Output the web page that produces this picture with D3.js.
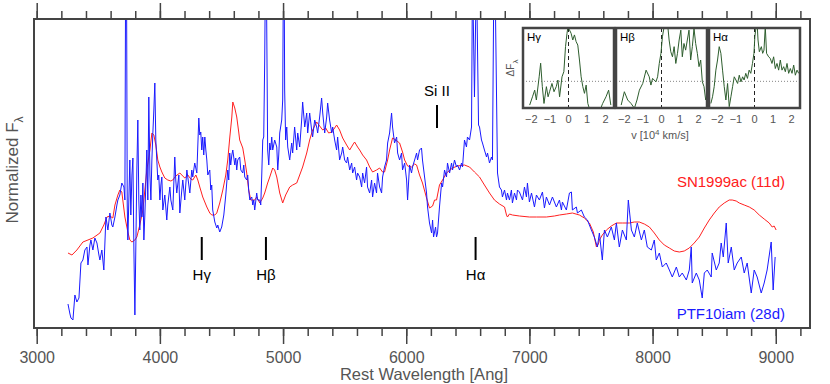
<!DOCTYPE html>
<html>
<head>
<meta charset="utf-8">
<script src="https://cdn.jsdelivr.net/npm/d3@7"></script>
<style>
body { margin: 0; background: #fff; }
text { font-family: "Liberation Sans", Arial, sans-serif; }
</style>
</head>
<body>
<script>
// PTF10iam (28d), [rest wavelength in Ang, normalized flux]
var ptfSpec = [
 [3254,0.24],[3270,0.14],[3278,0.10],[3294,0.08],[3310,0.33],[3326,0.26],[3343,0.30],[3359,0.65],[3375,0.68],[3391,0.78],
 [3408,0.81],[3416,0.63],[3432,0.83],[3440,0.88],[3456,0.78],[3472,0.90],[3489,0.85],[3505,0.73],[3513,0.68],[3529,0.78],
 [3545,0.58],[3562,1.11],[3578,0.98],[3594,1.15],[3610,1.03],[3618,1.01],[3635,1.11],[3651,1.23],[3659,1.28],[3675,1.33],
 [3691,1.45],[3708,1.41],[3716,1.28],[3722,3.6],[3729,3.6],[3735,1.23],[3740,0.88],[3756,1.68],[3764,1.13],[3773,1.53],
 [3781,1.70],[3789,0.78],[3797,0.13],[3805,0.83],[3813,1.58],[3821,2.08],[3829,1.28],[3837,0.98],[3846,1.33],[3854,1.11],
 [3862,1.45],[3870,0.88],[3878,1.13],[3886,1.43],[3894,1.78],[3902,1.28],[3910,2.31],[3919,1.53],[3927,1.28],[3935,1.68],
 [3943,1.95],[3951,2.18],[3959,2.45],[3967,1.88],[3975,1.68],[3983,1.48],[3991,1.53],[4000,1.28],[4008,1.43],[4016,1.51],
 [4024,1.18],[4040,1.33],[4056,1.08],[4064,1.23],[4081,1.41],[4089,1.28],[4105,1.18],[4121,1.71],[4129,1.48],[4137,1.35],
 [4154,1.53],[4162,1.15],[4178,1.38],[4186,1.48],[4202,1.28],[4210,1.43],[4219,1.58],[4235,1.43],[4243,1.35],[4259,1.58],
 [4267,1.51],[4283,1.65],[4300,1.55],[4316,2.10],[4324,1.93],[4332,1.96],[4340,1.78],[4348,1.91],[4356,1.73],[4365,1.91],
 [4373,1.78],[4381,1.68],[4389,1.53],[4405,1.58],[4413,1.38],[4421,1.43],[4429,1.18],[4446,1.06],[4462,1.00],[4470,1.03],
 [4486,0.96],[4502,1.01],[4519,1.13],[4535,1.33],[4551,1.58],[4559,1.48],[4567,1.75],[4575,1.63],[4584,1.73],[4592,1.78],
 [4608,1.63],[4616,1.70],[4624,1.58],[4632,1.68],[4648,1.71],[4657,1.58],[4673,1.55],[4681,1.63],[4689,1.51],[4705,1.48],
 [4713,1.53],[4721,1.38],[4730,1.28],[4746,1.31],[4754,1.23],[4762,1.28],[4770,1.18],[4786,1.35],[4794,1.28],[4811,1.28],
 [4819,1.23],[4827,1.53],[4835,1.88],[4843,1.91],[4851,2.68],[4857,3.6],[4864,3.6],[4875,1.78],[4884,1.63],[4892,1.85],
 [4900,1.78],[4908,1.91],[4916,1.78],[4932,1.88],[4949,1.81],[4957,1.58],[4965,1.73],[4973,1.95],[4989,2.08],[4997,2.28],
 [5003,3.6],[5009,3.6],[5013,2.38],[5021,1.88],[5030,2.01],[5038,1.81],[5054,1.68],[5070,1.85],[5078,1.75],[5094,2.01],
 [5111,1.78],[5119,1.95],[5135,1.81],[5151,2.08],[5159,2.26],[5176,2.01],[5192,2.15],[5200,1.95],[5216,2.15],[5232,1.98],
 [5240,1.91],[5257,2.08],[5273,2.01],[5281,1.95],[5297,2.11],[5313,2.30],[5322,2.15],[5338,1.95],[5354,2.11],[5362,2.25],
 [5378,2.08],[5395,1.95],[5403,2.01],[5419,1.88],[5435,1.78],[5443,1.91],[5459,1.68],[5476,1.75],[5484,1.81],[5500,1.68],
 [5516,1.65],[5524,1.71],[5541,1.58],[5557,1.65],[5565,1.55],[5581,1.61],[5597,1.48],[5605,1.55],[5622,1.51],[5638,1.41],
 [5646,1.55],[5662,1.45],[5678,1.61],[5686,1.41],[5703,1.35],[5719,1.48],[5727,1.31],[5743,1.45],[5759,1.35],[5767,1.55],
 [5784,1.41],[5800,1.35],[5808,1.51],[5824,1.61],[5840,1.68],[5849,1.85],[5865,1.95],[5881,2.15],[5889,2.01],[5905,1.85],
 [5922,1.91],[5930,1.75],[5946,1.68],[5962,1.75],[5970,1.58],[5987,1.65],[6003,1.48],[6011,1.28],[6027,1.63],[6043,1.55],
 [6051,1.61],[6068,1.68],[6084,1.75],[6092,1.68],[6108,1.78],[6124,1.80],[6132,1.68],[6149,1.51],[6165,1.35],[6173,1.21],
 [6189,1.05],[6206,0.95],[6214,1.08],[6222,0.91],[6238,1.01],[6246,0.91],[6254,0.95],[6270,1.21],[6287,1.45],[6295,1.41],
 [6311,1.58],[6327,1.51],[6335,1.65],[6352,1.55],[6368,1.65],[6376,1.58],[6392,1.68],[6408,1.61],[6416,1.63],[6433,1.58],
 [6449,1.65],[6457,1.61],[6473,1.88],[6489,1.81],[6497,1.91],[6514,1.88],[6530,2.01],[6538,3.6],[6554,2.31],[6570,3.6],
 [6587,2.03],[6595,2.01],[6611,1.88],[6619,1.85],[6635,1.78],[6652,1.71],[6660,1.75],[6676,1.65],[6692,1.71],[6700,1.68],
 [6712,3.6],[6720,3.6],[6741,1.55],[6757,1.41],[6773,1.38],[6781,1.31],[6798,1.38],[6814,1.28],[6822,1.35],[6838,1.28],
 [6854,1.38],[6862,1.25],[6879,1.35],[6895,1.28],[6903,1.38],[6919,1.36],[6944,1.28],[6960,1.41],[6976,1.31],[6984,1.45],
 [7000,1.26],[7017,1.35],[7041,1.21],[7057,1.33],[7081,1.28],[7106,1.36],[7122,1.20],[7138,1.31],[7163,1.23],[7187,1.31],
 [7219,1.21],[7244,1.28],[7260,1.18],[7268,1.26],[7300,1.18],[7325,1.35],[7341,1.36],[7349,1.18],[7381,1.21],[7390,1.15],
 [7422,1.18],[7446,1.11],[7471,1.08],[7503,0.98],[7527,0.91],[7552,0.81],[7568,0.95],[7592,0.68],[7609,0.98],[7633,0.91],
 [7665,1.01],[7690,0.88],[7706,1.05],[7730,0.81],[7755,0.98],[7787,0.88],[7803,1.28],[7828,0.98],[7852,0.91],[7876,1.05],
 [7909,0.88],[7933,0.98],[7957,0.81],[7990,0.78],[8014,0.88],[8030,0.68],[8055,0.75],[8079,0.61],[8111,0.65],[8136,0.58],
 [8160,0.51],[8193,0.61],[8217,0.51],[8241,0.55],[8274,0.48],[8298,0.58],[8314,0.81],[8322,0.45],[8355,0.55],[8379,0.48],
 [8403,0.30],[8420,0.55],[8444,0.58],[8476,0.51],[8484,0.75],[8517,0.58],[8541,0.65],[8557,0.85],[8574,0.71],[8598,1.05],
 [8614,0.65],[8639,0.81],[8663,0.58],[8687,0.65],[8720,0.71],[8744,0.55],[8768,0.65],[8801,0.35],[8825,0.58],[8849,0.51],
 [8882,0.35],[8906,0.45],[8930,0.58],[8963,0.86],[8979,0.38],[8995,0.71]
];

// SN1999ac (11d)
var snSpec = [
 [3254,0.75],[3286,0.73],[3326,0.78],[3375,0.86],[3416,0.88],[3456,0.90],[3513,0.95],[3545,1.03],[3570,1.11],[3594,1.12],
 [3618,1.10],[3635,1.23],[3659,1.33],[3675,1.38],[3691,1.36],[3716,1.11],[3740,0.96],[3756,0.88],[3773,0.86],[3797,0.88],
 [3813,0.91],[3837,1.03],[3862,1.18],[3878,1.38],[3894,1.58],[3919,1.78],[3935,1.95],[3951,1.93],[3967,1.83],[3983,1.68],
 [4000,1.61],[4016,1.56],[4040,1.50],[4064,1.48],[4089,1.47],[4105,1.48],[4129,1.52],[4162,1.55],[4186,1.52],[4202,1.50],
 [4227,1.53],[4251,1.49],[4267,1.48],[4292,1.53],[4308,1.48],[4324,1.41],[4348,1.31],[4381,1.21],[4405,1.15],[4421,1.13],
 [4446,1.13],[4462,1.15],[4486,1.25],[4511,1.38],[4535,1.53],[4551,1.68],[4567,1.90],[4584,2.11],[4592,2.26],[4608,2.20],
 [4624,2.11],[4640,1.96],[4648,1.88],[4673,1.80],[4689,1.68],[4705,1.55],[4721,1.38],[4738,1.28],[4754,1.28],[4770,1.28],
 [4786,1.31],[4811,1.25],[4835,1.30],[4851,1.35],[4875,1.45],[4892,1.51],[4916,1.60],[4932,1.58],[4949,1.51],[4973,1.35],
 [4997,1.25],[5021,1.33],[5054,1.41],[5078,1.43],[5111,1.45],[5135,1.53],[5159,1.61],[5192,1.75],[5216,1.88],[5240,1.98],
 [5273,2.06],[5297,2.02],[5322,1.98],[5346,2.00],[5370,1.95],[5395,1.96],[5419,2.00],[5435,2.03],[5459,1.98],[5484,1.90],
 [5516,1.83],[5541,1.78],[5565,1.83],[5581,1.86],[5605,1.81],[5622,1.78],[5646,1.73],[5678,1.68],[5703,1.61],[5727,1.56],
 [5759,1.58],[5784,1.60],[5808,1.56],[5824,1.56],[5849,1.68],[5865,1.78],[5889,1.90],[5914,1.88],[5946,1.85],[5970,1.76],
 [5987,1.68],[6011,1.62],[6043,1.61],[6068,1.64],[6084,1.63],[6108,1.53],[6132,1.45],[6165,1.30],[6189,1.20],[6214,1.22],
 [6230,1.28],[6246,1.28],[6270,1.43],[6295,1.48],[6327,1.55],[6376,1.60],[6416,1.62],[6473,1.63],[6514,1.61],[6554,1.56],
 [6595,1.51],[6635,1.43],[6676,1.35],[6716,1.28],[6757,1.24],[6798,1.21],[6814,1.13],[6822,1.11],[6838,1.14],[6862,1.13],
 [6919,1.12],[7000,1.11],[7057,1.11],[7138,1.11],[7203,1.12],[7244,1.13],[7300,1.14],[7349,1.15],[7406,1.13],[7446,1.10],
 [7487,1.05],[7519,0.96],[7544,0.81],[7560,0.84],[7568,0.88],[7592,0.93],[7625,0.98],[7665,1.02],[7706,1.05],[7755,1.05],
 [7811,1.05],[7852,1.06],[7892,1.06],[7933,1.04],[7974,1.01],[8014,0.95],[8055,0.88],[8095,0.83],[8136,0.80],[8176,0.77],
 [8217,0.76],[8257,0.77],[8298,0.80],[8338,0.85],[8379,0.91],[8420,1.00],[8460,1.08],[8501,1.15],[8541,1.21],[8582,1.25],
 [8622,1.28],[8647,1.28],[8679,1.27],[8704,1.25],[8744,1.23],[8785,1.21],[8825,1.18],[8866,1.13],[8906,1.09],[8947,1.05],
 [8971,1.01],[8987,1.02],[9003,0.98]
];

// line identifications
var lineNames = ["H\u03b3", "H\u03b2", "Si II", "H\u03b1"];
var lineWaves = [4340, 4861, 6250, 6563];
var lineSide  = ["below", "below", "above", "below"];

var majorTicks = [3000, 4000, 5000, 6000, 7000, 8000, 9000];

// inset: velocity (10^4 km/s) vs delta flux
var insetNames = ["H\u03b3", "H\u03b2", "H\u03b1"];
var hgProfile = [
 [-2.09,-0.89],[-1.94,-0.58],[-1.82,-0.33],[-1.73,-0.70],[-1.58,0.17],[-1.50,0.68],[-1.41,-0.20],[-1.32,-0.83],[-1.19,-0.20],
 [-1.10,-0.58],[-1.02,-0.39],[-0.89,-0.08],[-0.78,-0.39],[-0.66,-0.20],[-0.57,0.05],[-0.48,-0.58],[-0.35,0.17],[-0.25,0.36],
 [-0.16,1.30],[-0.08,1.80],[-0.03,2.05],[0.05,1.93],[0.14,1.80],[0.23,1.55],[0.32,1.74],[0.41,1.49],[0.50,1.36],[0.59,0.80],
 [0.68,0.17],[0.77,-0.20],[0.86,-0.45],[0.95,-0.14],[1.04,-0.83],[1.12,-1.01],[1.30,-1.20],[1.57,-1.30],[1.84,-0.83],
 [2.02,-0.58],[2.16,-0.33],[2.28,-0.89]
];
var hbProfile = [
 [-2.17,-0.89],[-2.00,-0.39],[-1.82,-0.70],[-1.64,-0.83],[-1.46,-1.01],[-1.32,-0.70],[-1.19,-0.33],[-1.01,-0.08],[-0.83,0.42],
 [-0.66,0.17],[-0.57,-0.14],[-0.48,0.11],[-0.30,-0.02],[-0.21,0.17],[-0.12,0.67],[-0.03,1.05],[0.05,1.67],[0.14,2.05],
 [0.32,2.20],[0.41,1.55],[0.50,1.11],[0.59,0.92],[0.68,1.30],[0.77,0.67],[0.86,1.05],[0.95,1.55],[1.04,1.92],[1.12,0.92],
 [1.21,1.42],[1.30,1.17],[1.39,1.55],[1.48,1.92],[1.57,0.80],[1.66,1.30],[1.75,1.98],[1.84,1.42],[1.93,1.05],[2.02,0.55],
 [2.11,0.80],[2.20,-0.02],[2.29,-0.20],[2.38,-0.70],[2.47,-0.58]
];
var haProfile = [
 [-2.35,-0.83],[-2.26,-0.58],[-2.17,-0.20],[-2.08,0.42],[-1.99,0.80],[-1.90,1.30],[-1.81,1.05],[-1.72,0.42],[-1.63,-0.20],
 [-1.54,-0.70],[-1.45,-0.08],[-1.36,-0.95],[-1.27,-0.58],[-1.18,-0.20],[-1.09,0.17],[-1.00,0.05],[-0.91,-0.08],[-0.82,0.23],
 [-0.73,-0.02],[-0.64,0.17],[-0.56,0.05],[-0.47,0.30],[-0.38,0.11],[-0.29,0.42],[-0.20,0.30],[-0.11,0.67],[-0.03,1.05],
 [0.02,1.67],[0.09,2.10],[0.14,2.20],[0.19,1.55],[0.26,1.11],[0.37,1.30],[0.44,1.05],[0.51,1.17],[0.58,2.05],[0.65,1.05],
 [0.76,0.92],[0.85,0.86],[0.94,0.67],[1.03,0.92],[1.12,0.48],[1.21,0.67],[1.30,0.42],[1.39,0.80],[1.48,0.42],[1.57,0.55],
 [1.66,0.36],[1.75,0.67],[1.84,0.30],[1.93,0.48],[2.02,0.30],[2.11,0.61],[2.20,0.23],[2.29,0.42],[2.38,0.30]
];
var insetTicks = [-2, -1, 0, 1, 2];

var width = 830, height = 384;
var mLeft = 34, mRight = 810, mTop = 19, mBottom = 328;
var axisColor = "#444", textColor = "#555";

var svg = d3.select("body").append("svg")
    .attr("width", width)
    .attr("height", height);

var x = d3.scaleLinear().domain([2978, 9278]).range([mLeft, mRight]);
var y = d3.scaleLinear().domain([0, 3.09]).range([mBottom, mTop]);

svg.append("clipPath").attr("id", "plotclip")
  .append("rect").attr("x", mLeft).attr("y", mTop)
  .attr("width", mRight - mLeft).attr("height", mBottom - mTop);

var line = d3.line().x(d => x(d[0])).y(d => y(d[1]));

var plot = svg.append("g").attr("clip-path", "url(#plotclip)");
plot.append("path").datum(snSpec)
    .attr("d", line).attr("fill", "none")
    .attr("stroke", "#ff2020").attr("stroke-width", 1);
plot.append("path").datum(ptfSpec)
    .attr("d", line).attr("fill", "none")
    .attr("stroke", "#1a1aff").attr("stroke-width", 1);

// axes: ticks out on bottom and top, no left labels
var xBottom = d3.axisBottom(x).tickValues(majorTicks).tickSize(16).tickFormat(d3.format("d"));
var xBottomMinor = d3.axisBottom(x).tickValues(d3.range(3000, 9201, 200)).tickSize(8).tickFormat("");
var xTop = d3.axisTop(x).tickValues(majorTicks).tickSize(16).tickFormat("");
var xTopMinor = d3.axisTop(x).tickValues(d3.range(3000, 9201, 200)).tickSize(8).tickFormat("");

function styleAxis(g) {
  g.select(".domain").remove();
  g.selectAll("line").attr("stroke", axisColor).attr("stroke-width", 1.5);
  g.selectAll("text").attr("fill", textColor).attr("font-size", 16)
    .attr("font-family", "Liberation Sans, Arial, sans-serif");
}
svg.append("g").attr("transform", "translate(0," + mBottom + ")").call(xBottomMinor).call(styleAxis);
svg.append("g").attr("transform", "translate(0," + mBottom + ")").call(xBottom).call(styleAxis)
  .selectAll("text").attr("dy", null).attr("y", 35);
svg.append("g").attr("transform", "translate(0," + mTop + ")").call(xTopMinor).call(styleAxis);
svg.append("g").attr("transform", "translate(0," + mTop + ")").call(xTop).call(styleAxis);

svg.append("rect")
    .attr("x", mLeft).attr("y", mTop)
    .attr("width", mRight - mLeft).attr("height", mBottom - mTop)
    .attr("fill", "none").attr("stroke", axisColor).attr("stroke-width", 2);

svg.append("text")
    .attr("x", 424).attr("y", 380)
    .attr("text-anchor", "middle")
    .attr("font-size", 16.5).attr("fill", textColor)
    .text("Rest Wavelength [Ang]");

var ylab = svg.append("text")
    .attr("transform", "translate(18,170) rotate(-90)")
    .attr("text-anchor", "middle")
    .attr("font-size", 17).attr("fill", textColor);
ylab.append("tspan").text("Normalized F");
ylab.append("tspan").attr("dy", 5).attr("font-size", 12).text("\u03bb");

// line markers
lineNames.forEach(function(name, i) {
  var lx = x(lineWaves[i]);
  var y0, y1, ty;
  if (lineSide[i] === "below") { y0 = y(0.91); y1 = y(0.68); ty = y1 + 20; }
  else { y0 = y(2.23); y1 = y(2.00); ty = y0 - 9; }
  svg.append("line").attr("x1", lx).attr("x2", lx).attr("y1", y0).attr("y2", y1)
    .attr("stroke", "#000").attr("stroke-width", 2);
  svg.append("text").attr("x", lx).attr("y", ty)
    .attr("text-anchor", "middle").attr("font-size", 15).attr("fill", "#000")
    .text(name);
});

svg.append("text").attr("x", 785).attr("y", 187)
    .attr("text-anchor", "end").attr("font-size", 15).attr("fill", "#ff2020")
    .text("SN1999ac (11d)");
svg.append("text").attr("x", 785).attr("y", 319)
    .attr("text-anchor", "end").attr("font-size", 15).attr("fill", "#1a1aff")
    .text("PTF10iam (28d)");

// inset panels
var profiles = [hgProfile, hbProfile, haProfile];
var pTop = 28, pH = 80, pW = 91;
var iy = d3.scaleLinear().domain([-1, 2]).range([pTop + pH, pTop]);

profiles.forEach(function(prof, i) {
  var pl = 523 + i * 93;
  var ix = d3.scaleLinear().domain([-2.45, 2.45]).range([pl, pl + pW]);
  var g = svg.append("g");
  g.append("rect").attr("x", pl).attr("y", pTop).attr("width", pW).attr("height", pH)
    .attr("fill", "#fff");
  g.append("clipPath").attr("id", "ic" + i)
    .append("rect").attr("x", pl).attr("y", pTop).attr("width", pW).attr("height", pH);
  var inner = g.append("g").attr("clip-path", "url(#ic" + i + ")");
  inner.append("line").attr("x1", pl).attr("x2", pl + pW).attr("y1", iy(0)).attr("y2", iy(0))
    .attr("stroke", "#666").attr("stroke-width", 0.8).attr("stroke-dasharray", "1,2");
  inner.append("line").attr("x1", ix(0)).attr("x2", ix(0)).attr("y1", pTop).attr("y2", pTop + pH)
    .attr("stroke", "#222").attr("stroke-width", 1).attr("stroke-dasharray", "4,3");
  inner.append("path").datum(prof)
    .attr("d", d3.line().x(d => ix(d[0])).y(d => iy(d[1])))
    .attr("fill", "none").attr("stroke", "#2e5e2e").attr("stroke-width", 1);
  g.append("rect").attr("x", pl).attr("y", pTop).attr("width", pW).attr("height", pH)
    .attr("fill", "none").attr("stroke", axisColor).attr("stroke-width", 2.5);
  g.append("text").attr("x", pl + 4).attr("y", pTop + 13)
    .attr("font-size", 11.5).attr("fill", "#000").text(insetNames[i]);
  g.selectAll(".it").data(insetTicks).enter().append("text")
    .attr("x", d => ix(d)).attr("y", 123)
    .attr("text-anchor", "middle").attr("font-size", 11).attr("fill", textColor)
    .text(d => d < 0 ? "\u2212" + Math.abs(d) : d);
});

var vlab = svg.append("text").attr("x", 660).attr("y", 139)
    .attr("text-anchor", "middle").attr("font-size", 11).attr("fill", textColor);
vlab.append("tspan").text("v [10");
vlab.append("tspan").attr("dy", -4).attr("font-size", 8).text("4");
vlab.append("tspan").attr("dy", 4).text(" km/s]");

var dlab = svg.append("text")
    .attr("transform", "translate(514,68) rotate(-90)")
    .attr("text-anchor", "middle").attr("font-size", 10).attr("fill", textColor);
dlab.append("tspan").text("\u0394F");
dlab.append("tspan").attr("dy", 4).attr("font-size", 8).text("\u03bb");
</script>
</body>
</html>
